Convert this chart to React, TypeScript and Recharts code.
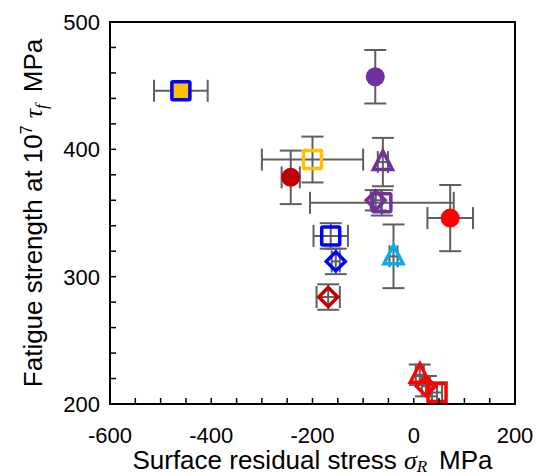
import React from 'react';
import { ScatterChart, Scatter, XAxis, YAxis, ErrorBar, ReferenceArea } from 'recharts';

// ---- data ----
const seriesNames = [
  'BlueOrangeSquare', 'PurpleCircle', 'OrangeSquare', 'DarkRedCircle', 'PurpleTriangle',
  'PurpleSquare', 'PurpleDiamond', 'RedCircle', 'BlueSquare', 'BlueDiamond',
  'CyanTriangle', 'DarkRedDiamond', 'RedTriangle', 'RedDiamond', 'RedSquare',
];
const stressX = [-460, -76, -200, -243, -61, -63, -75, 72, -164, -154, -40, -169, 12, 24, 46];
const strengthY = [446, 457, 392, 378, 390, 358, 360, 346, 332, 312, 316, 284, 223, 214, 209];
const errX = [53, 0, 100, 18, 10, 142, 10, 45, 34, 8, 8, 23, 8, 8, 10];
const errY = [0, 21, 18, 21, 19, 10, 8, 26, 10, 10, 25, 10, 8, 8, 8];

const xTicks = [-600, -550, -500, -450, -400, -350, -300, -250, -200, -150, -100, -50, 0, 50, 100, 150, 200];
const yTicks = [200, 220, 240, 260, 280, 300, 320, 340, 360, 380, 400, 420, 440, 460, 480, 500];

// ---- styles ----
const markerShape = ['square', 'circle', 'square', 'circle', 'triangle', 'square', 'diamond', 'circle', 'square', 'diamond', 'triangle', 'diamond', 'triangle', 'diamond', 'square'];
const markerStroke = ['#0000FF', '#7030A0', '#FFC000', '#C00000', '#7030A0', '#7030A0', '#7030A0', '#FF0000', '#0000FF', '#0000FF', '#00B0F0', '#C00000', '#FF0000', '#FF0000', '#FF0000'];
const markerFill = ['#FFC000', '#7030A0', 'none', '#C00000', 'none', 'none', 'none', '#FF0000', 'none', 'none', 'none', 'none', 'none', 'none', 'none'];

const FONT = "'Liberation Sans', Arial, sans-serif";
const SERIF = "'Liberation Serif', 'Times New Roman', serif";
const ERR_COLOR = '#5F5F5F';

const makeShape = (kind: string, stroke: string, fill: string) => (props: any) => {
  const { cx, cy } = props;
  if (cx == null || cy == null) return <g />;
  const sw = 3.5;
  if (kind === 'circle') {
    return <circle cx={cx} cy={cy} r={9.5} fill={fill} stroke="none" />;
  }
  if (kind === 'square') {
    const h = 9;
    return (
      <rect x={cx - h} y={cy - h} width={2 * h} height={2 * h} fill={fill} stroke={stroke}
        strokeWidth={sw} strokeLinejoin="round" rx={1} />
    );
  }
  if (kind === 'diamond') {
    const h = 9.5;
    const d = `M${cx},${cy - h} L${cx + h},${cy} L${cx},${cy + h} L${cx - h},${cy} Z`;
    return <path d={d} fill={fill} stroke={stroke} strokeWidth={sw} strokeLinejoin="miter" />;
  }
  // triangle
  const d = `M${cx},${cy - 11} L${cx + 9.5},${cy + 7.5} L${cx - 9.5},${cy + 7.5} Z`;
  return <path d={d} fill={fill} stroke={stroke} strokeWidth={sw} strokeLinejoin="miter" />;
};

const XTick = (props: any) => {
  const { x, y, payload } = props;
  const v = payload.value;
  const isEnd = v === -600 || v === 200;
  return (
    <g>
      {!isEnd && <line x1={x} y1={y} x2={x} y2={y - 6} stroke="#000" strokeWidth={1.5} />}
      {v % 200 === 0 && (
        <text x={x} y={y + 39} textAnchor="middle" fontSize={22} fontFamily={FONT} fill="#000">
          {v}
        </text>
      )}
    </g>
  );
};

const YTick = (props: any) => {
  const { x, y, payload } = props;
  const v = payload.value;
  const isEnd = v === 200 || v === 500;
  return (
    <g>
      {!isEnd && <line x1={x} y1={y} x2={x + 6} y2={y} stroke="#000" strokeWidth={1.5} />}
      {v % 100 === 0 && (
        <text x={x - 10} y={y + 8} textAnchor="end" fontSize={22} fontFamily={FONT} fill="#000">
          {v}
        </text>
      )}
    </g>
  );
};

const XTitle = (props: any) => {
  const vb = props.viewBox || {};
  const cx = vb.x + vb.width / 2;
  const by = vb.y + 65;
  return (
    <text x={cx} y={by} textAnchor="middle" fontSize={26} fontFamily={FONT} fill="#000">
      Surface residual stress
      <tspan dx={7} fontFamily={SERIF} fontStyle="italic">σ</tspan>
      <tspan fontFamily={SERIF} fontStyle="italic" fontSize={17} dy={3}>R</tspan>
      <tspan dx={12} dy={-3}>MPa</tspan>
    </text>
  );
};

const YTitle = (props: any) => {
  const vb = props.viewBox || {};
  const cy = vb.y + vb.height / 2;
  const bx = 42;
  return (
    <text x={0} y={0} transform={`translate(${bx},${cy}) rotate(-90)`} textAnchor="middle"
      fontSize={26} fontFamily={FONT} fill="#000">
      Fatigue strength at 10
      <tspan fontSize={16} dy={-10}>7</tspan>
      <tspan dx={7} dy={10} fontFamily={SERIF} fontStyle="italic">τ</tspan>
      <tspan fontFamily={SERIF} fontStyle="italic" fontSize={17} dy={5}>f</tspan>
      <tspan dx={12} dy={-5}>MPa</tspan>
    </text>
  );
};

export default function App() {
  const series = seriesNames.map((name, i) => ({
    name,
    data: [{ x: stressX[i], y: strengthY[i], ex: errX[i], ey: errY[i] }],
  }));
  return (
    <div style={{ position: 'absolute', left: 0, top: 0, background: '#fff' }}>
      <ScatterChart width={536} height={476} margin={{ top: 22, right: 21, bottom: 0, left: 0 }}>
        <XAxis dataKey="x" type="number" domain={[-600, 200]} ticks={xTicks} interval={0}
          allowDataOverflow tickLine={false} tickSize={0} tickMargin={0} height={72}
          axisLine={{ stroke: '#000', strokeWidth: 2 }} tick={XTick}
          label={{ content: XTitle }} />
        <YAxis dataKey="y" type="number" domain={[200, 500]} ticks={yTicks} interval={0}
          allowDataOverflow tickLine={false} tickSize={0} tickMargin={0} width={110}
          axisLine={{ stroke: '#000', strokeWidth: 2 }} tick={YTick}
          label={{ content: YTitle }} />
        <ReferenceArea x1={-600} x2={200} y1={200} y2={500} fill="none" fillOpacity={0}
          stroke="#000" strokeWidth={2} />
        {series.map((s, i) => (
          <Scatter key={s.name} name={s.name} data={s.data} isAnimationActive={false}
            shape={makeShape(markerShape[i], markerStroke[i], markerFill[i])}>
            {errX[i] > 0 && (
              <ErrorBar dataKey="ex" direction="x" width={11} stroke={ERR_COLOR} strokeWidth={2}
                isAnimationActive={false} />
            )}
            {errY[i] > 0 && (
              <ErrorBar dataKey="ey" direction="y" width={11} stroke={ERR_COLOR} strokeWidth={2}
                isAnimationActive={false} />
            )}
          </Scatter>
        ))}
      </ScatterChart>
    </div>
  );
}
